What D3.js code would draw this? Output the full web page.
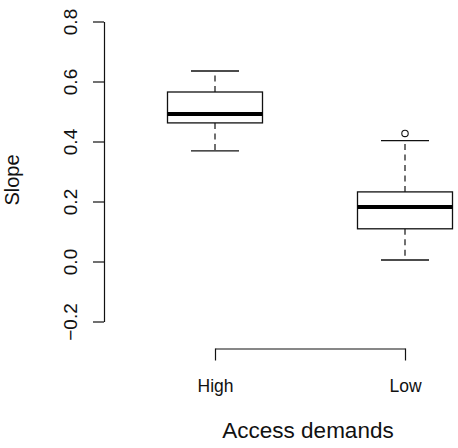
<!DOCTYPE html>
<html>
<head>
<meta charset="utf-8">
<script src="https://cdnjs.cloudflare.com/ajax/libs/d3/7.8.5/d3.min.js"></script>
<style>
  body { margin: 0; background: #fff; }
  svg { display: block; }
  text { font-family: "Liberation Sans", Arial, sans-serif; fill: #111; }
</style>
</head>
<body>
<svg width="458" height="448"></svg>
<script>
// data
var groups = ["High", "Low"];
var lowerWhisker = [0.369, 0.005];
var q1 = [0.462, 0.109];
var medians = [0.492, 0.182];
var q3 = [0.565, 0.232];
var upperWhisker = [0.635, 0.403];
var outliers = [[], [0.427]];
var yTicks = [-0.2, 0.0, 0.2, 0.4, 0.6, 0.8];

var svg = d3.select("svg"),
width = +svg.attr("width"),
height = +svg.attr("height");

var y = d3.scaleLinear()
.domain([-0.2, 0.8])
.range([321.5, 21.5]);

var x = d3.scalePoint()
.domain(groups)
.range([215, 405]);

var boxHalf = 47.5;
var capHalf = 24;

var boxes = groups.map(function(g, i) {
  return {g: g, lo: lowerWhisker[i], q1: q1[i], med: medians[i], q3: q3[i], hi: upperWhisker[i], out: outliers[i]};
});

// Y AXIS
var yAxis = svg.append("g")
.attr("transform", "translate(104,0)")
.call(d3.axisLeft(y).tickValues(yTicks).tickSize(11).tickSizeOuter(0).tickFormat(d3.format(".1f")));

yAxis.select(".domain").attr("stroke", "#111").attr("stroke-width", 1.2);
yAxis.selectAll(".tick line").attr("stroke", "#111").attr("stroke-width", 1.2);
yAxis.selectAll(".tick text")
  .attr("x", 0)
  .attr("dy", 0)
  .attr("text-anchor", "middle")
  .attr("transform", "translate(-27,0) rotate(-90)")
  .style("font-size", "19px")
  .style("font-family", "Liberation Sans, Arial, sans-serif")
  .attr("fill", "#111");

// X AXIS
var xAxis = svg.append("g")
.attr("transform", "translate(0,348.5)")
.call(d3.axisBottom(x).tickSize(12).tickSizeOuter(0));

xAxis.select(".domain").attr("stroke", "#111").attr("stroke-width", 1.2);
xAxis.selectAll(".tick line").attr("stroke", "#111").attr("stroke-width", 1.2);
xAxis.selectAll(".tick text")
  .attr("y", 43.5)
  .attr("dy", 0)
  .style("font-size", "17.5px")
  .style("font-family", "Liberation Sans, Arial, sans-serif")
  .attr("fill", "#111");

// BOXES
var bx = svg.append("g").selectAll("g")
.data(boxes)
.enter().append("g");

// whiskers (dashed)
bx.append("line")
  .attr("x1", d => x(d.g)).attr("x2", d => x(d.g))
  .attr("y1", d => y(d.q3)).attr("y2", d => y(d.hi))
  .attr("stroke", "#111").attr("stroke-width", 1.2)
  .attr("stroke-dasharray", "6,4.5");
bx.append("line")
  .attr("x1", d => x(d.g)).attr("x2", d => x(d.g))
  .attr("y1", d => y(d.q1)).attr("y2", d => y(d.lo))
  .attr("stroke", "#111").attr("stroke-width", 1.2)
  .attr("stroke-dasharray", "6,4.5");

// caps
bx.append("line")
  .attr("x1", d => x(d.g) - capHalf).attr("x2", d => x(d.g) + capHalf)
  .attr("y1", d => y(d.hi)).attr("y2", d => y(d.hi))
  .attr("stroke", "#111").attr("stroke-width", 1.3);
bx.append("line")
  .attr("x1", d => x(d.g) - capHalf).attr("x2", d => x(d.g) + capHalf)
  .attr("y1", d => y(d.lo)).attr("y2", d => y(d.lo))
  .attr("stroke", "#111").attr("stroke-width", 1.3);

// box
bx.append("rect")
  .attr("x", d => x(d.g) - boxHalf)
  .attr("width", boxHalf * 2)
  .attr("y", d => y(d.q3))
  .attr("height", d => y(d.q1) - y(d.q3))
  .attr("fill", "#fff")
  .attr("stroke", "#111").attr("stroke-width", 1.3);

// median
bx.append("line")
  .attr("x1", d => x(d.g) - boxHalf).attr("x2", d => x(d.g) + boxHalf)
  .attr("y1", d => y(d.med)).attr("y2", d => y(d.med))
  .attr("stroke", "#000").attr("stroke-width", 4);

// outliers
bx.selectAll("circle")
  .data(d => d.out.map(v => ({g: d.g, v: v})))
  .enter().append("circle")
  .attr("cx", d => x(d.g))
  .attr("cy", d => y(d.v))
  .attr("r", 3.2)
  .attr("fill", "none")
  .attr("stroke", "#111").attr("stroke-width", 1.1);

// TITLES
svg.append("text")
  .attr("transform", "translate(19,180) rotate(-90)")
  .attr("text-anchor", "middle")
  .style("font-size", "20px")
  .text("Slope");

svg.append("text")
  .attr("x", 308)
  .attr("y", 437.5)
  .attr("text-anchor", "middle")
  .style("font-size", "22.5px")
  .text("Access demands");
</script>
</body>
</html>
